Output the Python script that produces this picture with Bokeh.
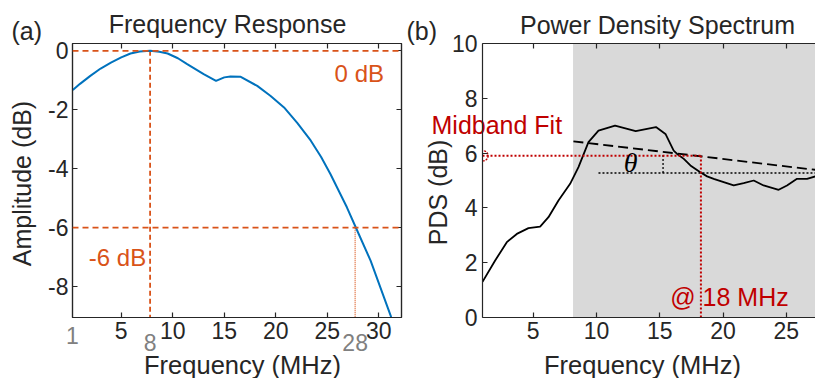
import math
from bokeh.plotting import figure
from bokeh.layouts import row
from bokeh.models import Range1d, LinearAxis, FixedTicker, Span, Label, BoxAnnotation, GridBox
from bokeh.core.properties import value
from bokeh.embed import file_html
from bokeh.resources import INLINE

# ---------------- data: (a) Frequency Response ----------------
fr_freq = [0.3, 1.0, 2.0, 3.0, 4.0, 5.0, 5.9, 6.8, 7.8, 8.7, 9.5, 10.5, 11.4, 12.2, 13.0, 14.2,
           15.0, 15.6, 16.6, 18.2, 19.5, 20.8, 22.1, 23.4, 24.4, 25.3, 26.9, 27.8, 29.2, 31.2]
fr_amp = [-1.33, -1.12, -0.85, -0.60, -0.40, -0.22, -0.09, -0.02, 0.0, -0.03, -0.09, -0.25,
          -0.45, -0.62, -0.79, -1.02, -0.90, -0.87, -0.88, -1.19, -1.53, -1.92, -2.45, -3.05,
          -3.6, -4.18, -5.31, -6.02, -7.12, -9.04]
center_freq = 7.8
upper_freq = 27.7
ref_levels = [0, -6]
a_xticks = [5, 10, 15, 20, 25, 30]
a_yticks = [0, -2, -4, -6, -8]
a_grey_labels = ["1", "8", "28"]

# ---------------- data: (b) Power Density Spectrum ----------------
pds_freq = [1.0, 2.0, 2.92, 3.71, 4.63, 5.55, 6.21, 7.0, 7.92, 8.58, 9.37, 10.16, 11.47, 13.1,
            14.7, 15.45, 16.1, 16.37, 16.9, 17.42, 18.2, 18.74, 19.26, 20.84, 21.63, 22.42,
            23.2, 24.39, 25.05, 25.84, 26.63, 27.3]
pds_db = [1.3, 2.08, 2.75, 3.05, 3.26, 3.32, 3.66, 4.27, 4.88, 5.49, 6.4, 6.82, 7.0, 6.8,
          6.95, 6.7, 6.09, 5.97, 5.79, 5.55, 5.3, 5.15, 5.06, 4.82, 4.9, 5.0,
          4.82, 4.66, 4.82, 5.06, 5.06, 5.15]
band_start = 8.15
fit_freq = [8.18, 27.3]
fit_db = [6.43, 5.39]
midband_freq = 18.25
midband_db = 5.9
slope_ref_start = 10.16
slope_ref_db = 5.27
theta_freq = 15.26
b_xticks = [5, 10, 15, 20, 25]
b_yticks = [0, 2, 4, 6, 8, 10]

ORANGE = "#D95319"
BLUE = "#0072BD"
RED = "#C00000"
GREY = "#808080"
AX = "#262626"
FONT = "Liberation Sans"

W, H = 815, 378
A_LEFT, A_RIGHT, TOP, BOTTOM = 72, 401, 43, 317
A_X0, A_X1 = 0.27, 32.2
A_Y0, A_Y1 = -9.05, 0.25
B_LEFT_BORDER = 77
B_X0, B_X1 = 1.0, 27.3


def style_axis(ax, ticks, labels=True):
    ax.ticker = FixedTicker(ticks=ticks)
    ax.major_tick_in = 5
    ax.major_tick_out = 0
    ax.minor_tick_line_color = None
    ax.axis_line_color = AX
    ax.axis_line_width = 1.2
    ax.major_tick_line_color = AX
    ax.major_tick_line_width = 1.2
    ax.major_label_text_font = FONT
    if labels:
        ax.major_label_text_color = AX
        ax.major_label_text_font_size = "23px"
        ax.major_label_overrides = {t: str(t) for t in ticks}
    else:
        ax.major_label_text_color = None
        ax.major_label_text_font_size = "1px"
        ax.major_label_standoff = 0


# ================= background layer with texts outside the plot frames =================
bg = figure(width=W, height=H, x_range=Range1d(0, W), y_range=Range1d(H, 0),
            output_backend="svg", toolbar_location=None, title=None,
            x_axis_location=None, y_axis_location=None, min_border=0)
bg.outline_line_color = None
bg.grid.visible = False
bg.background_fill_color = "white"
bg.border_fill_color = "white"


def a_px(x):
    return A_LEFT + (x - A_X0) * (A_RIGHT - A_LEFT) / (A_X1 - A_X0)


def bg_text(xs, ys, texts, size, color=AX, align="left", angle=0.0):
    bg.text(x=xs, y=ys, text=texts, text_font=value(FONT), text_font_size=size,
            text_color=color, text_align=align, text_baseline="middle", angle=angle)


bg_text([11, 406], [30, 30], ["(a)", "(b)"], "25px")
bg_text([227, 657], [23.5, 24], ["Frequency Response", "Power Density Spectrum"], "25px",
        align="center")
bg_text([242, 642], [364, 364], ["Frequency (MHz)", "Frequency (MHz)"], "25.5px", align="center")
bg_text([21, 437], [183, 192], ["Amplitude (dB)", "PDS (dB)"], "25px", align="center",
        angle=math.pi / 2)
bg_text([431], [124], ["Midband Fit"], "25px", color=RED)
bg_text([a_px(A_X0), a_px(center_freq), a_px(upper_freq)], [335, 342, 342], a_grey_labels,
        "23px", color=GREY, align="center")

# ================= Panel (a) =================
p1 = figure(width=405, height=H, x_range=Range1d(A_X0, A_X1), y_range=Range1d(A_Y0, A_Y1),
            output_backend="svg", toolbar_location=None, title=None,
            min_border_left=A_LEFT, min_border_right=405 - A_RIGHT, min_border_top=TOP,
            min_border_bottom=H - BOTTOM)
p1.grid.visible = False
p1.outline_line_color = AX
p1.outline_line_width = 1.2
p1.background_fill_color = None
p1.border_fill_color = None
style_axis(p1.xaxis[0], a_xticks)
style_axis(p1.yaxis[0], a_yticks)
p1.xaxis[0].major_label_standoff = 4
p1.yaxis[0].major_label_standoff = 4
top1 = LinearAxis()
style_axis(top1, a_xticks, labels=False)
p1.add_layout(top1, "above")
right1 = LinearAxis()
style_axis(right1, a_yticks, labels=False)
p1.add_layout(right1, "right")

for lv in ref_levels:
    p1.add_layout(Span(location=lv, dimension="width", line_color=ORANGE,
                       line_width=1.8, line_dash="6 4"))
p1.line([center_freq, center_freq], [ref_levels[0], A_Y0], line_color=ORANGE,
        line_width=1.8, line_dash="5 3")
p1.line([upper_freq, upper_freq], [ref_levels[1], A_Y0], line_color=ORANGE,
        line_width=1.2, line_dash="1 1")
p1.line(fr_freq, fr_amp, line_color=BLUE, line_width=2)

p1.add_layout(Label(x=30.5, y=-0.77, text="0 dB", text_font=FONT, text_font_size="24px",
                    text_color=ORANGE, text_align="right", text_baseline="middle"))
p1.add_layout(Label(x=1.85, y=-7.0, text="-6 dB", text_font=FONT, text_font_size="24px",
                    text_color=ORANGE, text_align="left", text_baseline="middle"))

# ================= Panel (b) =================
p2 = figure(width=W - 405, height=H, x_range=Range1d(B_X0, B_X1), y_range=Range1d(0, 10),
            output_backend="svg", toolbar_location=None, title=None,
            min_border_left=B_LEFT_BORDER, min_border_right=0, min_border_top=TOP,
            min_border_bottom=H - BOTTOM)
p2.grid.visible = False
p2.outline_line_color = None
p2.background_fill_color = None
p2.border_fill_color = None
style_axis(p2.xaxis[0], b_xticks)
style_axis(p2.yaxis[0], b_yticks)
p2.xaxis[0].major_label_standoff = 4
p2.yaxis[0].major_label_standoff = 5
top2 = LinearAxis()
style_axis(top2, b_xticks, labels=False)
p2.add_layout(top2, "above")

p2.add_layout(BoxAnnotation(left=band_start, fill_color="#d9d9d9", fill_alpha=1.0,
                            line_color=None, level="underlay"))
p2.line(pds_freq, pds_db, line_color="black", line_width=1.8)
p2.line(fit_freq, fit_db, line_color="black", line_width=1.8, line_dash="10 5")
p2.line([slope_ref_start, B_X1], [slope_ref_db, slope_ref_db], line_color="black",
        line_width=1.5, line_dash="2 2")
p2.line([theta_freq, theta_freq], [slope_ref_db, midband_db + 0.05], line_color="black",
        line_width=1.3, line_dash="2 2")
p2.line([B_X0, midband_freq], [midband_db, midband_db], line_color=RED, line_width=2,
        line_dash="2 2")
p2.line([midband_freq, midband_freq], [0, midband_db], line_color=RED, line_width=2,
        line_dash="2 2")
p2.scatter([1.05], [midband_db], marker="circle", size=10, fill_color=None,
           line_color=RED, line_width=1.3, line_dash="2 1")

p2.add_layout(Label(x=15.83, y=0.74, text="@ 18 MHz", text_font=FONT, text_font_size="25px",
                    text_color=RED, text_align="left", text_baseline="middle"))
p2.add_layout(Label(x=12.7, y=5.67, text="θ", text_font="Liberation Serif", text_font_size="28px",
                    text_font_style="italic", text_color="black", text_align="center",
                    text_baseline="middle"))

panels = row(p1, p2, spacing=0)
layout = GridBox(children=[(bg, 0, 0), (panels, 0, 0)])
open("out.html", "w").write(file_html(layout, INLINE))
